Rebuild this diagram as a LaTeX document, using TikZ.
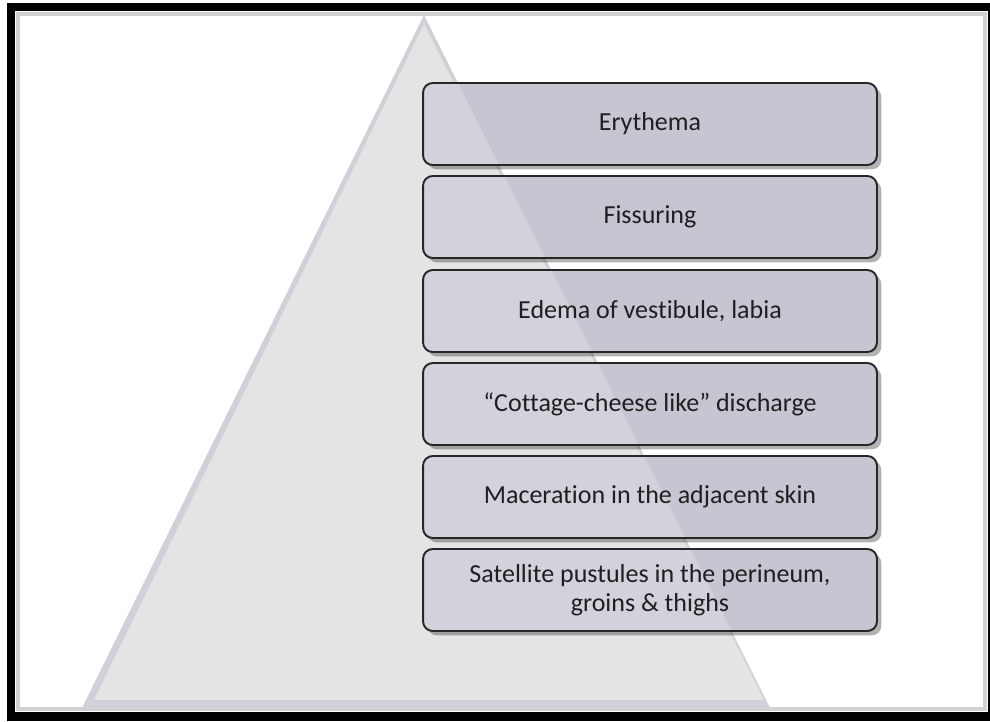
\documentclass[tikz,border=0pt]{standalone}
\usepackage{fontspec}
\setmainfont[Ligatures={TeX,NoCommon}]{Carlito}
\usepackage{tikz}
\usetikzlibrary{shadows}
\definecolor{boxfill}{HTML}{C7C5D1}
\definecolor{pyrface}{HTML}{E4E4E4}
\definecolor{pyredge}{HTML}{D0D0D8}

\begin{document}
\begin{tikzpicture}[x=0.02cm,y=-0.02cm,item/.style={draw=black!85,line width=1.1pt,rounded corners=5.5pt,fill=boxfill,align=center,minimum width=9.08cm,minimum height=1.64cm,inner sep=0pt,text=black!88,font=\fontsize{14.8}{16.5}\selectfont,drop shadow={shadow xshift=2.5pt,shadow yshift=-2.5pt,fill=black,opacity=0.3},path picture={\fill[white,opacity=0.22] (apex) -- (baseL) -- (baseR) -- cycle;}}]
\useasboundingbox (0,0) rectangle (990,721);
\fill[white] (0,0) rectangle (990,721);
% pyramid behind the list
\coordinate (apex) at (424,15);
\coordinate (baseL) at (82,708);
\coordinate (baseR) at (770,708);
\fill[pyredge] (apex) -- (baseL) -- (baseR) -- cycle;
\fill[pyrface] (424,24) -- (94,700) -- (764,700) -- cycle;
\node[item] (ery) at (650,124) {Erythema};
\node[item] (fiss) at (650,217) {Fissuring};
\node[item] (edema) at (650,311) {Edema of vestibule, labia};
\node[item] (disch) at (650,404) {“Cottage-cheese like” discharge};
\node[item] (macer) at (650,497) {Maceration in the adjacent skin};
\node[item] (satel) at (650,590) {Satellite pustules in the perineum,\\groins \& thighs};
% frame
\draw[gray!35,line width=0.08cm] (18,14) rectangle (985,709);
\draw[line width=0.17cm] (11,7) rectangle (992,716.5);
\end{tikzpicture}
\end{document}
